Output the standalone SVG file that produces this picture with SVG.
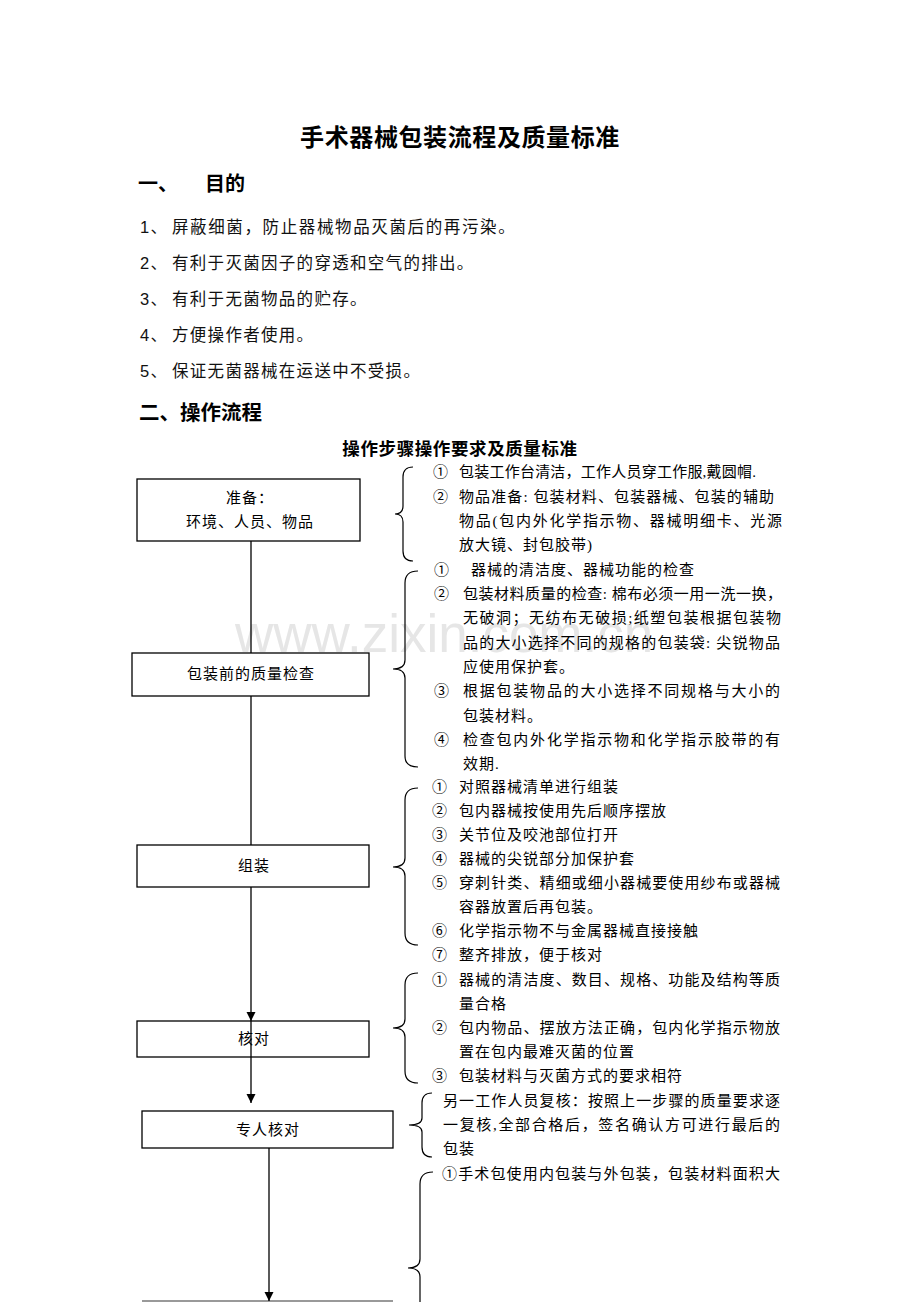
<svg xmlns="http://www.w3.org/2000/svg" width="920" height="1302" viewBox="0 0 920 1302">
<style>
.t{font-family:"Liberation Serif","Noto Sans CJK SC",serif;font-size:15px;letter-spacing:1px;fill:#000}
.c{text-anchor:middle}
.l{font-family:"Liberation Sans","Noto Sans CJK SC",sans-serif;font-size:16.5px;letter-spacing:1.3px;fill:#111}
.h{font-family:"Liberation Sans","Noto Sans CJK SC",sans-serif;font-weight:bold;fill:#000}
.box{fill:#fff;stroke:#000;stroke-width:1.3}
.ln{stroke:#000;stroke-width:1.3;fill:none}
.br{stroke:#000;stroke-width:1.2;fill:none}
.wm{font-family:"Liberation Sans",sans-serif;font-size:53px;fill:#e6e6e6}
</style>
<defs>
<marker id="arr" viewBox="0 0 10 10" refX="10" refY="5" markerWidth="9" markerHeight="10" markerUnits="userSpaceOnUse" orient="auto">
<path d="M0,0 L10,5 L0,10 z" fill="#000"/>
</marker>
</defs>
<rect width="920" height="1302" fill="#fff"/>
<text class="wm" x="235" y="652">www.zixin.com.cn</text>

<g id="header">
<text class="h c" x="460" y="146" font-size="24" letter-spacing="0.6">手术器械包装流程及质量标准</text>
<text class="h" x="138" y="191" font-size="20">一、</text>
<text class="h" x="205" y="191" font-size="20">目的</text>
<text class="l" x="140" y="233">1、</text><text class="l" x="172" y="233" textLength="344">屏蔽细菌，防止器械物品灭菌后的再污染。</text>
<text class="l" x="140" y="269">2、</text><text class="l" x="172" y="269">有利于灭菌因子的穿透和空气的排出。</text>
<text class="l" x="140" y="305">3、</text><text class="l" x="172" y="305">有利于无菌物品的贮存。</text>
<text class="l" x="140" y="341">4、</text><text class="l" x="172" y="341">方便操作者使用。</text>
<text class="l" x="140" y="377">5、</text><text class="l" x="172" y="377">保证无菌器械在运送中不受损。</text>
<text class="h" x="139" y="420" font-size="20.5">二、操作流程</text>
<text class="h c" x="460" y="455" font-size="17.5" letter-spacing="0.6">操作步骤操作要求及质量标准</text>
</g>

<g id="node-prep">
<rect class="box" x="137" y="479" width="223" height="62"/>
<text class="t c" x="250" y="503">准备：</text>
<text class="t c" x="250" y="527">环境、人员、物品</text>
</g>
<g id="node-check">
<rect class="box" x="132" y="653" width="237" height="43"/>
<text class="t c" x="251" y="679">包装前的质量检查</text>
</g>
<g id="node-assemble">
<rect class="box" x="137" y="845" width="232" height="42"/>
<text class="t c" x="254" y="871">组装</text>
</g>
<g id="node-verify">
<rect class="box" x="137" y="1021" width="232" height="36"/>
<text class="t c" x="254" y="1044">核对</text>
</g>
<g id="node-special">
<rect class="box" x="142" y="1111" width="251" height="37"/>
<text class="t c" x="268" y="1135">专人核对</text>
</g>
<g id="node-next">
<line x1="142" y1="1301" x2="393" y2="1301" stroke="#777" stroke-width="1.3"/>
</g>

<g id="connectors">
<line class="ln" x1="251" y1="541" x2="251" y2="653"/>
<line class="ln" x1="251" y1="696" x2="251" y2="845"/>
<line class="ln" x1="251" y1="887" x2="251" y2="1021" marker-end="url(#arr)"/>
<line class="ln" x1="251" y1="1021" x2="251" y2="1103" marker-end="url(#arr)"/>
<line class="ln" x1="269" y1="1148" x2="269" y2="1301" marker-end="url(#arr)"/>
</g>

<g id="braces">
<path class="br" d="M413 467 Q403 467 403 477 L403 506 Q403 514 395 514 Q403 514 403 522 L403 551 Q403 561 413 561"/>
<path class="br" d="M418 571 Q405 571 405 583 L405 660 Q405 669 393 669 Q405 669 405 678 L405 756 Q405 767 418 767"/>
<path class="br" d="M418 788 Q405 788 405 800 L405 858 Q405 867 393 867 Q405 867 405 876 L405 933 Q405 945 418 945"/>
<path class="br" d="M418 973 Q405 973 405 985 L405 1019 Q405 1028 393 1028 Q405 1028 405 1037 L405 1071 Q405 1083 418 1083"/>
<path class="br" d="M432 1093 Q422 1093 422 1103 L422 1118 Q422 1125 409 1125 Q422 1125 422 1132 L422 1147 Q422 1157 432 1157"/>
<path class="br" d="M433 1172 Q420 1172 420 1184 L420 1259 Q420 1268 408 1268 Q420 1268 420 1277 L420 1320"/>
</g>

<g id="notes-prep">
<text class="t" x="433" y="477">①</text><text class="t" x="459" y="477" textLength="298">包装工作台清洁，工作人员穿工作服,戴圆帽.</text>
<text class="t" x="433" y="502">②</text><text class="t" x="459" y="502" textLength="316">物品准备: 包装材料、包装器械、包装的辅助</text>
<text class="t" x="459" y="526" textLength="324">物品(包内外化学指示物、器械明细卡、光源</text>
<text class="t" x="459" y="550">放大镜、封包胶带)</text>
</g>
<g id="notes-check">
<text class="t" x="434" y="575">①</text><text class="t" x="471" y="575">器械的清洁度、器械功能的检查</text>
<text class="t" x="434" y="599">②</text><text class="t" x="463" y="599" textLength="320">包装材料质量的检查: 棉布必须一用一洗一换，</text>
<text class="t" x="463" y="623" textLength="319">无破洞；无纺布无破损;纸塑包装根据包装物</text>
<text class="t" x="463" y="648" textLength="318">品的大小选择不同的规格的包装袋: 尖锐物品</text>
<text class="t" x="463" y="672">应使用保护套。</text>
<text class="t" x="434" y="696">③</text><text class="t" x="463" y="696" textLength="318">根据包装物品的大小选择不同规格与大小的</text>
<text class="t" x="463" y="721">包装材料。</text>
<text class="t" x="434" y="745">④</text><text class="t" x="463" y="745" textLength="318">检查包内外化学指示物和化学指示胶带的有</text>
<text class="t" x="463" y="769">效期.</text>
</g>
<g id="notes-assemble">
<text class="t" x="432" y="792">①</text><text class="t" x="459" y="792">对照器械清单进行组装</text>
<text class="t" x="432" y="816">②</text><text class="t" x="459" y="816">包内器械按使用先后顺序摆放</text>
<text class="t" x="432" y="840">③</text><text class="t" x="459" y="840">关节位及咬池部位打开</text>
<text class="t" x="432" y="864">④</text><text class="t" x="459" y="864">器械的尖锐部分加保护套</text>
<text class="t" x="432" y="888">⑤</text><text class="t" x="459" y="888" textLength="322">穿刺针类、精细或细小器械要使用纱布或器械</text>
<text class="t" x="459" y="912">容器放置后再包装。</text>
<text class="t" x="432" y="936">⑥</text><text class="t" x="459" y="936">化学指示物不与金属器械直接接触</text>
<text class="t" x="432" y="960">⑦</text><text class="t" x="459" y="960">整齐排放，便于核对</text>
</g>
<g id="notes-verify">
<text class="t" x="432" y="985">①</text><text class="t" x="459" y="985" textLength="322">器械的清洁度、数目、规格、功能及结构等质</text>
<text class="t" x="459" y="1009">量合格</text>
<text class="t" x="432" y="1033">②</text><text class="t" x="459" y="1033" textLength="322">包内物品、摆放方法正确，包内化学指示物放</text>
<text class="t" x="459" y="1057">置在包内最难灭菌的位置</text>
<text class="t" x="432" y="1081">③</text><text class="t" x="459" y="1081">包装材料与灭菌方式的要求相符</text>
</g>
<g id="notes-special">
<text class="t" x="443" y="1106" textLength="338">另一工作人员复核：按照上一步骤的质量要求逐</text>
<text class="t" x="443" y="1130" textLength="338">一复核,全部合格后，签名确认方可进行最后的</text>
<text class="t" x="443" y="1154">包装</text>
</g>
<g id="notes-pack">
<text class="t" x="442" y="1179" textLength="339">①手术包使用内包装与外包装，包装材料面积大</text>
</g>
</svg>
